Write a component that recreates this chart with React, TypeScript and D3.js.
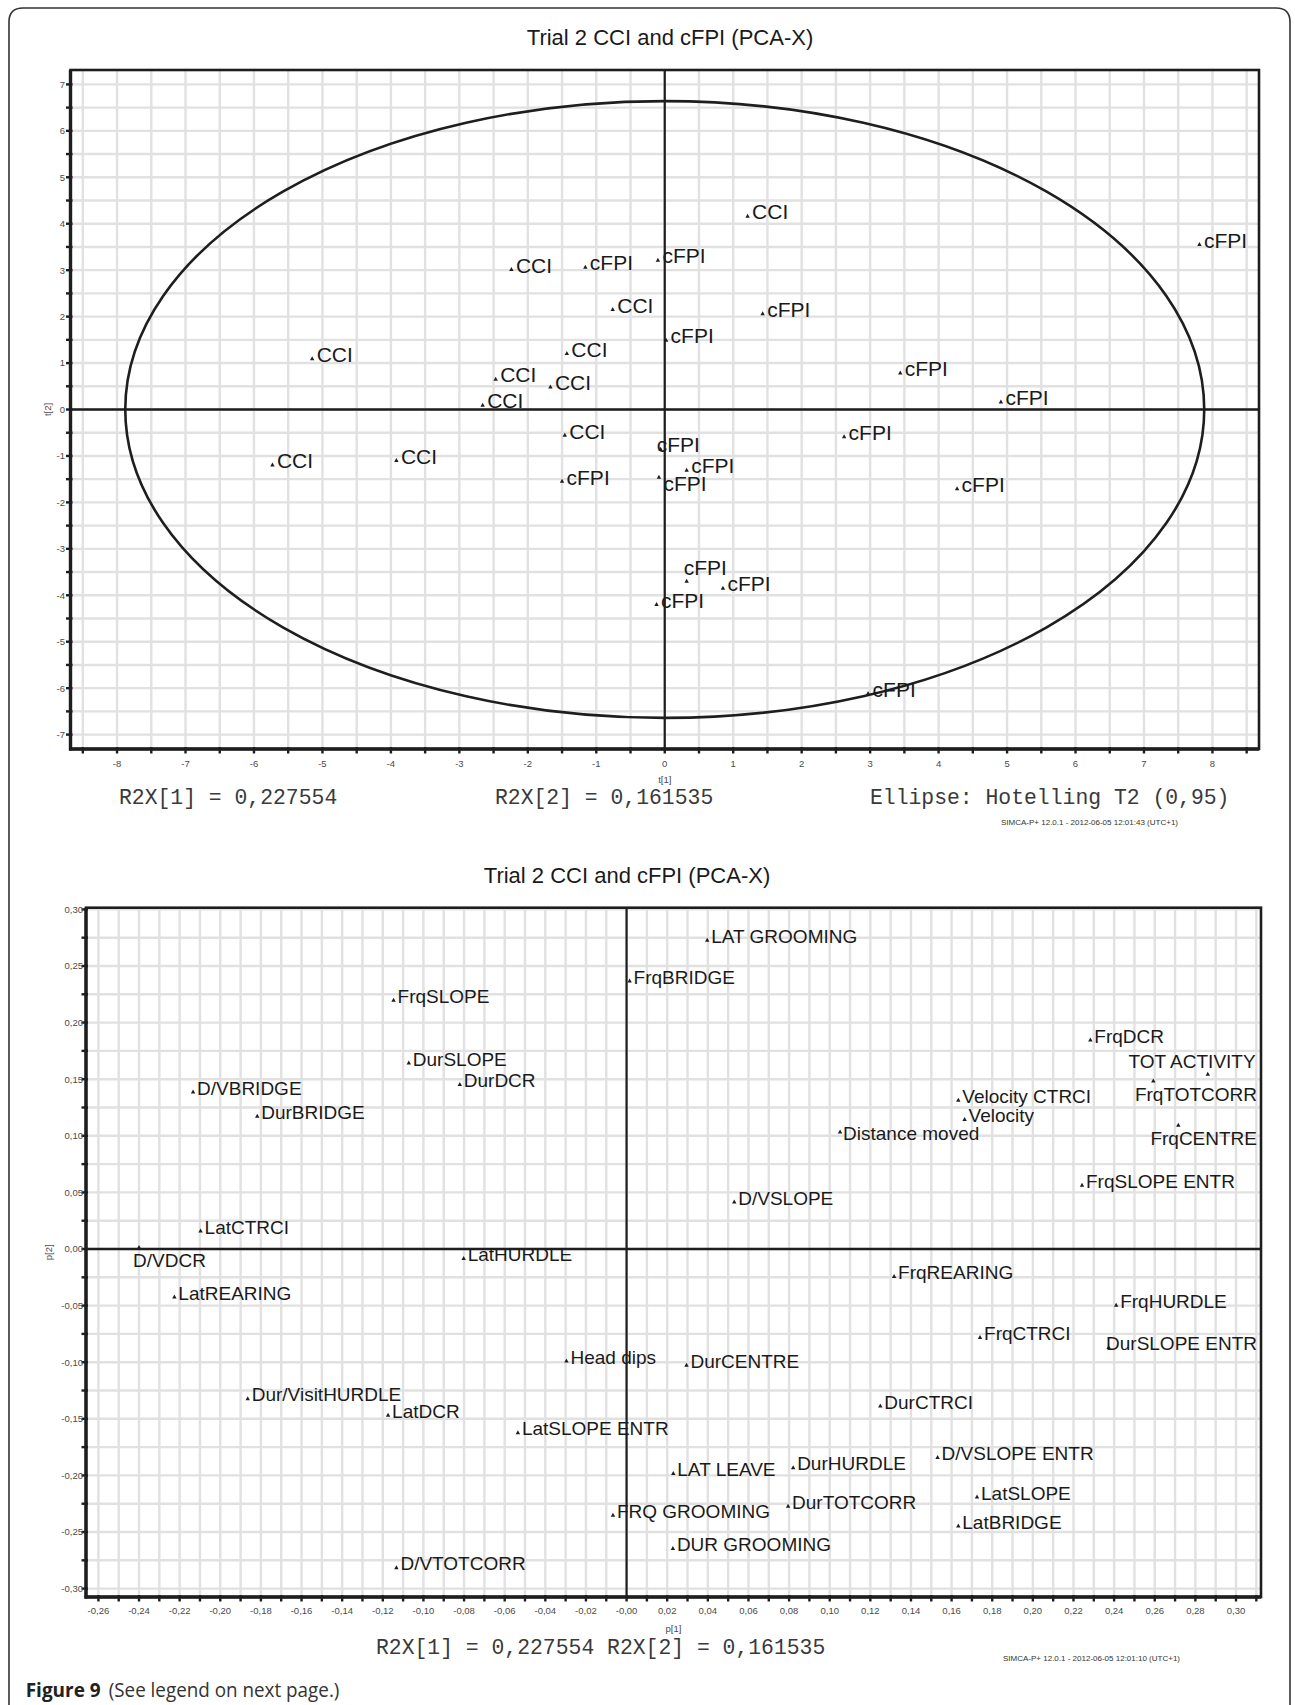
import React from 'react';
import * as d3 from 'd3';

const W = 1295;
const H = 1705;

// ---------- Score plot (t[1] / t[2]) ----------
const scoreClass = ['CCI','CCI','cFPI','CCI','CCI','CCI','CCI','CCI','CCI','cFPI','cFPI','cFPI','cFPI','cFPI','cFPI','CCI','CCI','CCI','cFPI','cFPI','cFPI','cFPI','cFPI','cFPI','cFPI','cFPI','cFPI','cFPI'];
const scoreT1 = [-5.15,-2.24,-1.16,-0.76,-1.43,-2.47,-1.67,-2.66,1.21,7.81,-0.10,1.43,0.02,3.44,4.91,-5.73,-3.92,-1.46,-1.50,2.62,-0.06,0.32,-0.085,4.27,0.32,0.85,-0.12,2.97];
const scoreT2 = [1.10,3.02,3.07,2.16,1.21,0.66,0.49,0.10,4.17,3.56,3.22,2.07,1.50,0.79,0.17,-1.19,-1.09,-0.55,-1.54,-0.58,-0.85,-1.30,-1.45,-1.70,-3.69,-3.84,-4.19,-6.11];
const scoreSide = ['r','r','r','r','r','r','r','r','r','r','r','r','r','r','r','r','r','r','r','r','o','r','b','r','a','r','r','r'];
const ellipseT1 = 7.88;
const ellipseT2 = 6.64;
const scoreXTickText = ['-8','-7','-6','-5','-4','-3','-2','-1','0','1','2','3','4','5','6','7','8'];
const scoreYTickText = ['-7','-6','-5','-4','-3','-2','-1','0','1','2','3','4','5','6','7'];

// ---------- Loading plot (p[1] / p[2]) ----------
const loadName = ['FrqBRIDGE','FrqSLOPE','DurSLOPE','DurDCR','D/VBRIDGE','DurBRIDGE','LatCTRCI','D/VDCR','LatHURDLE','LAT GROOMING','FrqDCR','TOT ACTIVITY','FrqTOTCORR','FrqCENTRE','Velocity CTRCI','Velocity','Distance moved','FrqSLOPE ENTR','D/VSLOPE','FrqREARING','FrqHURDLE','FrqCTRCI','DurSLOPE ENTR','DurCENTRE','DurCTRCI','D/VSLOPE ENTR','LAT LEAVE','DurHURDLE','LatSLOPE','DurTOTCORR','LatBRIDGE','DUR GROOMING','LatREARING','Head dips','Dur/VisitHURDLE','LatDCR','LatSLOPE ENTR','FRQ GROOMING','D/VTOTCORR'];
const loadP1 = [0.0015,-0.1147,-0.1072,-0.0821,-0.2134,-0.1818,-0.2097,-0.240,-0.0802,0.0397,0.2283,0.2861,0.2593,0.2716,0.1633,0.1664,0.1051,0.2242,0.0530,0.1317,0.2410,0.1740,0.2373,0.0295,0.1249,0.1531,0.0230,0.0820,0.1725,0.0795,0.1633,0.0228,-0.2226,-0.0296,-0.1865,-0.1174,-0.0535,-0.0067,-0.1133];
const loadP2 = [0.237,0.220,0.1645,0.1455,0.139,0.1175,0.0162,0.0015,-0.0082,0.273,0.185,0.1546,0.1487,0.1095,0.1316,0.1146,0.1036,0.0565,0.0418,-0.024,-0.0495,-0.078,-0.0868,-0.1025,-0.1384,-0.184,-0.198,-0.1929,-0.2188,-0.227,-0.2444,-0.2644,-0.0421,-0.0987,-0.1319,-0.1466,-0.162,-0.235,-0.2812];
const loadSide = ['r','r','r','r','r','r','r','b','r','r','r','a','b','b','r','r','rl','r','r','r','r','r','r','r','r','r','r','r','r','r','r','r','r','r','r','r','r','r','r'];
const loadXTickText = ['-0,26','-0,24','-0,22','-0,20','-0,18','-0,16','-0,14','-0,12','-0,10','-0,08','-0,06','-0,04','-0,02','-0,00','0,02','0,04','0,06','0,08','0,10','0,12','0,14','0,16','0,18','0,20','0,22','0,24','0,26','0,28','0,30'];
const loadYTickText = ['-0,30','-0,25','-0,20','-0,15','-0,10','-0,05','0,00','0,05','0,10','0,15','0,20','0,25','0,30'];

const SANS = '"Liberation Sans", Arial, Helvetica, sans-serif';
const MONO = '"Liberation Mono", "Courier New", monospace';

let ctx: CanvasRenderingContext2D | null = null;
function textW(s: string, size: number) {
  if (!ctx) ctx = document.createElement('canvas').getContext('2d');
  if (!ctx) return s.length * size * 0.55;
  ctx.font = `${size}px "Liberation Sans"`;
  return ctx.measureText(s).width;
}

type PlotProps = {
  x0: number; x1: number; y0: number; y1: number;
  xDomain: [number, number]; yDomain: [number, number];
  xGrid: number[]; yGrid: number[];
  xTickVals: number[]; xTickText: string[];
  yTickVals: number[]; yTickText: string[];
  xTitle: string; yTitle: string;
  xTitleY: number; yTitleX: number; xLabelY: number; yLabelX: number;
  names: string[]; vx: number[]; vy: number[]; sides: string[];
  fontSize: number; offsets: Record<string, [number, number]>;
  ellipse?: [number, number];
};

function Plot(p: PlotProps) {
  const sx = d3.scaleLinear().domain(p.xDomain).range([p.x0, p.x1]);
  const sy = d3.scaleLinear().domain(p.yDomain).range([p.y1, p.y0]);
  const gridColor = '#e1e1e1';
  const ink = '#1e1e1e';
  const xMid = sx((p.xDomain[0] + p.xDomain[1]) / 2);
  const yMid = sy((p.yDomain[0] + p.yDomain[1]) / 2);
  return (
    <g>
      {p.xGrid.map((v, i) => (
        <line key={'gx' + i} x1={sx(v)} x2={sx(v)} y1={p.y0} y2={p.y1} stroke={gridColor} strokeWidth={2.4} />
      ))}
      {p.yGrid.map((v, i) => (
        <line key={'gy' + i} x1={p.x0} x2={p.x1} y1={sy(v)} y2={sy(v)} stroke={gridColor} strokeWidth={2.4} />
      ))}
      {p.ellipse && (
        <ellipse cx={sx(0)} cy={sy(0)} rx={sx(p.ellipse[0]) - sx(0)} ry={sy(0) - sy(p.ellipse[1])}
          fill="none" stroke={ink} strokeWidth={2.6} />
      )}
      {p.names.map((n, i) => {
        const mx = sx(p.vx[i]);
        const my = sy(p.vy[i]);
        const off = p.offsets[p.sides[i]] || p.offsets.r;
        let tx = mx + off[0];
        const w = textW(n, p.fontSize);
        if (tx + w > p.x1 - 4) tx = p.x1 - 4 - w;
        return (
          <g key={'pt' + i}>
            <path d={`M${mx - 2.2},${my + 1.8} L${mx + 2.2},${my + 1.8} L${mx},${my - 2.2} Z`} fill={ink} />
            <text x={tx} y={my + off[1]} fontFamily={SANS} fontSize={p.fontSize} fill="#1a1a1a">{n}</text>
          </g>
        );
      })}
      <line x1={sx(0)} x2={sx(0)} y1={p.y0} y2={p.y1} stroke={ink} strokeWidth={2.2} />
      <line x1={p.x0} x2={p.x1} y1={sy(0)} y2={sy(0)} stroke={ink} strokeWidth={2.4} />
      <rect x={p.x0} y={p.y0} width={p.x1 - p.x0} height={p.y1 - p.y0} fill="none" stroke={ink} strokeWidth={2.6} />
      <line x1={p.x0} x2={p.x0} y1={p.y0} y2={p.y1 + 1.5} stroke={ink} strokeWidth={3.4} />
      <line x1={p.x0 - 1.5} x2={p.x1} y1={p.y1} y2={p.y1} stroke={ink} strokeWidth={3.4} />
      {p.xGrid.map((v, i) => (
        <line key={'tx' + i} x1={sx(v)} x2={sx(v)} y1={p.y1 - 2} y2={p.y1 + 4.5} stroke={ink} strokeWidth={2.4} />
      ))}
      {p.yGrid.map((v, i) => (
        <line key={'ty' + i} x1={p.x0 - 4.5} x2={p.x0 + 2} y1={sy(v)} y2={sy(v)} stroke={ink} strokeWidth={2.4} />
      ))}
      {p.xTickVals.map((v, i) => (
        <text key={'lx' + i} x={sx(v)} y={p.xLabelY} textAnchor="middle" fontFamily={SANS} fontSize={9.5} fill="#4a4a4a">{p.xTickText[i]}</text>
      ))}
      {p.yTickVals.map((v, i) => (
        <text key={'ly' + i} x={p.yLabelX} y={sy(v) + 3.4} textAnchor="end" fontFamily={SANS} fontSize={9.5} fill="#4a4a4a">{p.yTickText[i]}</text>
      ))}
      <text x={xMid} y={p.xTitleY} textAnchor="middle" fontFamily={SANS} fontSize={9.5} fill="#4a4a4a">{p.xTitle}</text>
      <text transform={`translate(${p.yTitleX},${yMid}) rotate(-90)`} textAnchor="middle" fontFamily={SANS} fontSize={9.5} fill="#4a4a4a">{p.yTitle}</text>
    </g>
  );
}

export default function App() {
  const scoreXGrid = d3.range(-17, 18).map((k) => k * 0.5);
  const scoreYGrid = d3.range(-14, 15).map((k) => k * 0.5);
  const scoreXTicks = d3.range(-8, 9);
  const scoreYTicks = d3.range(-7, 8);
  const loadXGrid = d3.range(-26, 32).map((k) => k / 100);
  const loadYGrid = d3.range(-12, 13).map((k) => k * 0.025);
  const loadXTicks = d3.range(-13, 16).map((k) => k * 0.02);
  const loadYTicks = d3.range(-6, 7).map((k) => k * 0.05);
  const scoreNames = scoreClass;

  return (
    <svg width={W} height={H} viewBox={`0 0 ${W} ${H}`} style={{ position: 'absolute', left: 0, top: 0, background: '#fff' }}>
      <rect x={0} y={0} width={W} height={H} fill="#fff" />
      <path d={`M9,1715 L9,22 Q9,8 23,8 L1276,8 Q1290,8 1290,22 L1290,1715`} fill="none" stroke="#333" strokeWidth={1.6} />

      <text x={670} y={45} textAnchor="middle" fontFamily={SANS} fontSize={22} fill="#1a1a1a">Trial 2 CCI and cFPI (PCA-X)</text>
      <Plot
        x0={70.5} x1={1259} y0={70} y1={749}
        xDomain={[-8.68, 8.68]} yDomain={[-7.31, 7.31]}
        xGrid={scoreXGrid} yGrid={scoreYGrid}
        xTickVals={scoreXTicks} xTickText={scoreXTickText}
        yTickVals={scoreYTicks} yTickText={scoreYTickText}
        xTitle="t[1]" yTitle="t[2]" xTitleY={783} yTitleX={51} xLabelY={766.5} yLabelX={65}
        names={scoreNames} vx={scoreT1} vy={scoreT2} sides={scoreSide}
        fontSize={21}
        offsets={{ r: [4.5, 3.5], o: [-4, 3], b: [4.5, 14], a: [-3, -6] }}
        ellipse={[ellipseT1, ellipseT2]}
      />
      <text x={119} y={804} fontFamily={MONO} fontSize={21.4} fill="#3a3a3a">R2X[1] = 0,227554</text>
      <text x={495} y={804} fontFamily={MONO} fontSize={21.4} fill="#3a3a3a">R2X[2] = 0,161535</text>
      <text x={870} y={804} fontFamily={MONO} fontSize={21.4} fill="#3a3a3a">Ellipse: Hotelling T2 (0,95)</text>
      <text x={1001} y={825} fontFamily={SANS} fontSize={7.5} fill="#333" textLength={177} lengthAdjust="spacingAndGlyphs">SIMCA-P+ 12.0.1 - 2012-06-05 12:01:43 (UTC+1)</text>

      <text x={627} y={882.7} textAnchor="middle" fontFamily={SANS} fontSize={22} fill="#1a1a1a">Trial 2 CCI and cFPI (PCA-X)</text>
      <Plot
        x0={86} x1={1261} y0={907.7} y1={1597}
        xDomain={[-0.2661, 0.3123]} yDomain={[-0.3074, 0.3015]}
        xGrid={loadXGrid} yGrid={loadYGrid}
        xTickVals={loadXTicks} xTickText={loadXTickText}
        yTickVals={loadYTicks} yTickText={loadYTickText}
        xTitle="p[1]" yTitle="p[2]" xTitleY={1632} yTitleX={52} xLabelY={1614} yLabelX={83}
        names={loadName} vx={loadP1} vy={loadP2} sides={loadSide}
        fontSize={19}
        offsets={{ r: [4, 3], b: [-6, 20], a: [-3, -6], rl: [3, 8] }}
      />
      <text x={376} y={1654} fontFamily={MONO} fontSize={21.4} fill="#3a3a3a">R2X[1] = 0,227554 R2X[2] = 0,161535</text>
      <text x={1003} y={1661} fontFamily={SANS} fontSize={7.5} fill="#333" textLength={177} lengthAdjust="spacingAndGlyphs">SIMCA-P+ 12.0.1 - 2012-06-05 12:01:10 (UTC+1)</text>

      <text x={25.7} y={1696.5} fontFamily='"Open Sans", sans-serif' fontSize={20} fontWeight={700} fill="#222" textLength={75} lengthAdjust="spacingAndGlyphs">Figure 9</text>
      <text x={108.7} y={1696.5} fontFamily='"Open Sans", sans-serif' fontSize={20} fill="#333" textLength={230.7} lengthAdjust="spacingAndGlyphs">(See legend on next page.)</text>
    </svg>
  );
}
